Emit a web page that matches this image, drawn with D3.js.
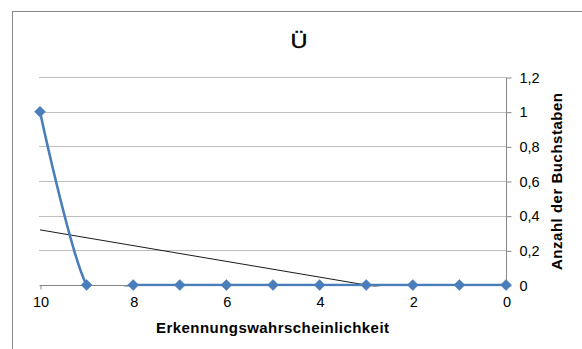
<!DOCTYPE html>
<html><head><meta charset="utf-8">
<script src="https://cdn.jsdelivr.net/npm/d3@7"></script>
<style>
html,body{margin:0;padding:0;background:#fff;}
svg{display:block;font-family:"Liberation Sans",Arial,sans-serif;}
</style></head>
<body>
<svg id="c" width="582" height="349"></svg>
<script>
const title = "Ü";
const xTitle = "Erkennungswahrscheinlichkeit";
const yTitle = "Anzahl der Buchstaben";
const xValues = [10, 9, 8, 7, 6, 5, 4, 3, 2, 1, 0];
const yValues = [1, 0, 0, 0, 0, 0, 0, 0, 0, 0, 0];
const xTicks = [10, 8, 6, 4, 2, 0];
const yTicks = [0, 0.2, 0.4, 0.6, 0.8, 1, 1.2];

(function () {
const svg = d3.select("#c");
const pL = 40, pR = 506, pT = 77, pB = 285;

const x = d3.scaleLinear().domain([10, 0]).range([pL, pR]);
const y = d3.scaleLinear().domain([0, 1.2]).range([pB, pT]);
const fmt = d => d3.format(".1~f")(d).replace(".", ",");

// frame
svg.append("rect").attr("x", 12.5).attr("y", 11.5).attr("width", 600).attr("height", 400)
  .attr("fill", "none").attr("stroke", "#878787").attr("stroke-width", 1);

// title
svg.append("text").attr("x", 299).attr("y", 48).attr("text-anchor", "middle")
  .attr("font-size", 20).attr("fill", "#000").attr("stroke", "#000").attr("stroke-width", 0.4)
  .attr("textLength", 17).attr("lengthAdjust", "spacingAndGlyphs").text(title);

// gridlines
svg.append("g").selectAll("line").data(yTicks.filter(d => d > 0)).join("line")
  .attr("x1", pL - 1).attr("x2", pR)
  .attr("y1", d => Math.round(y(d)) + 0.5).attr("y2", d => Math.round(y(d)) + 0.5)
  .attr("stroke", "#bebebe").attr("stroke-width", 1);

// y axis on right
const ya = d3.axisRight(y).tickValues(yTicks).tickFormat(fmt).tickSize(5).tickPadding(8);
const yg = svg.append("g").attr("transform", `translate(${pR + 0.5},0.5)`).call(ya);
yg.select(".domain").attr("stroke", "#878787").attr("d", `M0,${pT}V${pB}`);
yg.selectAll(".tick line").attr("stroke", "#878787");
yg.selectAll(".tick text").attr("font-size", 14.5).attr("fill", "#000")
  .attr("font-family", "'Liberation Sans',Arial,sans-serif");

// x axis
const xa = d3.axisBottom(x).tickValues(xTicks).tickSize(4).tickPadding(7);
const xg = svg.append("g").attr("transform", `translate(0.5,${pB + 0.5})`).call(xa);
xg.select(".domain").attr("stroke", "#878787").attr("d", `M${pL - 1},0H${pR}`);
xg.selectAll(".tick line").attr("stroke", "#878787");
xg.selectAll(".tick text").attr("font-size", 14.5).attr("fill", "#000")
  .attr("font-family", "'Liberation Sans',Arial,sans-serif");

// axis titles
svg.append("text").attr("x", 272.5).attr("y", 333).attr("text-anchor", "middle")
  .attr("font-size", 15).attr("font-weight", "bold").attr("fill", "#000")
  .attr("textLength", 233).attr("lengthAdjust", "spacing").text(xTitle);
svg.append("text").attr("transform", "translate(562,181.5) rotate(-90)").attr("text-anchor", "middle")
  .attr("font-size", 15).attr("font-weight", "bold").attr("fill", "#000")
  .attr("textLength", 177).attr("lengthAdjust", "spacing").text(yTitle);

// clip
svg.append("clipPath").attr("id", "plot").append("rect")
  .attr("x", pL - 6).attr("y", pT - 6).attr("width", pR - pL + 12).attr("height", pB - pT + 7.5);

const pts = xValues.map((v, i) => ({x: v, y: yValues[i]}));

// linear trendline (least squares of the series)
const mx = d3.mean(xValues), my = d3.mean(yValues);
const slope = d3.sum(pts, p => (p.x - mx) * (p.y - my)) / d3.sum(pts, p => (p.x - mx) ** 2);
const icpt = my - slope * mx;
const trendDom = [10, 0];
svg.append("g").attr("clip-path", "url(#plot)").append("line")
  .attr("x1", x(trendDom[0])).attr("y1", y(icpt + slope * trendDom[0]))
  .attr("x2", x(trendDom[1])).attr("y2", y(icpt + slope * trendDom[1]))
  .attr("stroke", "#000").attr("stroke-width", 0.9);

// smoothed series line
const line = d3.line().x(d => x(d.x)).y(d => y(d.y)).curve(d3.curveCardinal.tension(0));
svg.append("g").attr("clip-path", "url(#plot)").append("path").datum(pts)
  .attr("d", line).attr("fill", "none").attr("stroke", "#4a7ebb").attr("stroke-width", 2.6);

// diamond markers
svg.append("g").selectAll("path").data(pts).join("path")
  .attr("transform", d => `translate(${x(d.x)},${y(d.y)})`)
  .attr("d", "M0,-5.5L5.5,0L0,5.5L-5.5,0Z")
  .attr("fill", "#4a7ebb").attr("stroke", "#4a7ebb").attr("stroke-width", 0.5);
})();
</script>
</body></html>
